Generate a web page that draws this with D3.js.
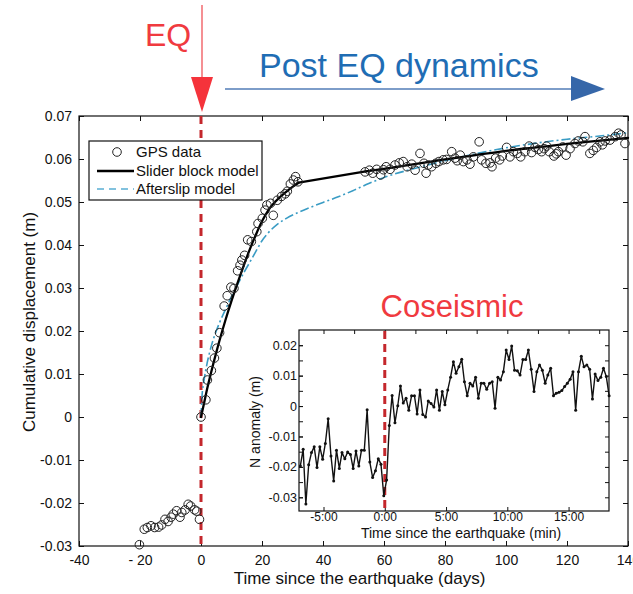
<!DOCTYPE html>
<html><head><meta charset="utf-8">
<script src="https://cdn.jsdelivr.net/npm/d3@7"></script>
<style>
html,body{margin:0;padding:0;background:#fff;}
svg{display:block;font-family:"Liberation Sans",Arial,Helvetica,sans-serif;}
</style></head>
<body>
<svg id="chart" width="633" height="594"></svg>
<script>
// ---------------- DATA ----------------
// Main panel: GPS cumulative displacement (days, metres)
const preDays   = [-20.2,-18.6,-17.6,-16.4,-15.2,-13.9,-12.9,-11.8,-10.8,-9.8,-9.1,-8.0,-6.9,-6.3,-5.2,-4.2,-3.4,-2.1,-1.4,-0.5];
const preValues = [-0.0297,-0.0261,-0.0257,-0.0253,-0.0257,-0.0256,-0.0251,-0.0238,-0.0243,-0.0233,-0.0226,-0.0218,-0.0233,-0.0222,-0.0216,-0.0203,-0.0207,-0.0216,-0.0219,-0.0238];

const postDays = [0.0,1.6,2.1,3.4,4.4,5.2,6.1,7.6,8.6,9.8,10.8,12.0,12.8,13.4,14.3,15.3,16.5,18.3,18.7,20.1,21.0,21.6,22.8,23.7,25.0,26.4,27.6,28.3,29.3,30.3,31.0,31.8,
  53.8,55.2,56.3,57.6,58.9,59.8,60.7,62.0,63.6,65.0,66.3,67.6,69.1,70.2,71.8,73.1,73.8,74.5,75.6,77.0,78.0,79.4,80.5,82.2,83.3,84.0,85.0,86.0,87.2,88.2,89.3,91.2,92.0,93.4,94.8,95.4,96.6,97.9,98.8,
  100.2,101.3,102.4,103.7,104.8,106.2,107.6,108.4,109.5,110.6,111.7,112.5,113.3,114.2,115.7,116.5,117.2,118.6,119.7,121.0,122.6,123.7,125.2,125.9,127.5,128.6,129.7,130.8,131.6,132.5,134.1,135.8,136.9,137.7,139.0];
const postValues = [0.0000,0.0040,0.0086,0.0108,0.0137,0.0160,0.0196,0.0258,0.0282,0.0302,0.0299,0.0340,0.0353,0.0365,0.0376,0.0412,0.0408,0.0431,0.0450,0.0462,0.0481,0.0493,0.0497,0.0469,0.0504,0.0513,0.0519,0.0525,0.0542,0.0551,0.0559,0.0547,
  0.0570,0.0574,0.0567,0.0576,0.0563,0.0575,0.0582,0.0576,0.0586,0.0591,0.0594,0.0582,0.0588,0.0574,0.0613,0.0590,0.0567,0.0586,0.0582,0.0590,0.0594,0.0598,0.0599,0.0617,0.0602,0.0596,0.0609,0.0594,0.0598,0.0588,0.0605,0.0640,0.0598,0.0590,0.0591,0.0582,0.0602,0.0598,0.0607,
  0.0627,0.0605,0.0617,0.0613,0.0605,0.0617,0.0630,0.0615,0.0627,0.0622,0.0617,0.0624,0.0630,0.0617,0.0607,0.0612,0.0617,0.0628,0.0609,0.0624,0.0636,0.0642,0.0640,0.0652,0.0613,0.0620,0.0627,0.0640,0.0633,0.0642,0.0644,0.0652,0.0660,0.0656,0.0636];

// Slider block model curve: rising branch, straight bridge across the data gap, slow branch
const sliderEarlyDays   = [0,1,2,3,4,5,6,8,10,12,14,16,18,20,22,24,26,28,30,32];
const sliderEarlyValues = [0,0.0032,0.0065,0.0095,0.0123,0.0150,0.0176,0.0225,0.0270,0.0312,0.0352,0.0390,0.0424,0.0455,0.0480,0.0498,0.0512,0.0524,0.0535,0.0545];
const sliderLateDays    = [54,60,70,80,90,100,110,120,130,140];
const sliderLateValues  = [0.0571,0.0577,0.0588,0.0599,0.0609,0.0619,0.0627,0.0635,0.0642,0.0649];

// Afterslip model curve
const afterDays   = [0,0.3,1,2,3,4,5,6,8,10,12,14,16,18,20,22,25,28,32,36,40,45,50,55,60,70,80,90,100,110,120,130,140];
const afterValues = [0,0.0045,0.0085,0.0125,0.0155,0.0180,0.0200,0.0218,0.0250,0.0280,0.0308,0.0335,0.0360,0.0385,0.0410,0.0428,0.0448,0.0462,0.0476,0.0488,0.0499,0.0512,0.0527,0.0543,0.0557,0.0578,0.0596,0.0612,0.0626,0.0637,0.0646,0.0653,0.0661];

const xTicks = [-40,-20,0,20,40,60,80,100,120,140];
const xTickLabels = ["-40","- 20","0","20","40","60","80","100","120","140"];
const yTicks = [-0.03,-0.02,-0.01,0,0.01,0.02,0.03,0.04,0.05,0.06,0.07];
const yTickLabels = ["-0.03","-0.02","-0.01","0","0.01","0.02","0.03","0.04","0.05","0.06","0.07"];

// Inset: N anomaly (minutes, metres)
const insetMinutes = [-6.89,-6.66,-6.44,-6.21,-5.98,-5.76,-5.53,-5.30,-5.07,-4.85,-4.62,-4.39,-4.17,-3.94,-3.71,-3.49,-3.26,-3.03,-2.80,-2.58,-2.35,-2.12,-1.90,-1.67,-1.44,-1.22,-0.99,-0.76,-0.53,-0.31,-0.08,
  0.15,0.37,0.60,0.83,1.06,1.28,1.51,1.74,1.96,2.19,2.42,2.64,2.87,3.10,3.33,3.55,3.78,4.01,4.23,4.46,4.69,4.91,5.14,5.37,5.60,5.82,6.05,6.28,6.50,6.73,6.96,7.18,7.41,7.64,7.87,8.09,8.32,8.55,8.77,9.00,
  9.23,9.45,9.68,9.91,10.14,10.36,10.59,10.82,11.04,11.27,11.50,11.72,11.95,12.18,12.41,12.63,12.86,13.09,13.31,13.54,13.77,13.99,14.22,14.45,14.68,14.90,15.13,15.36,15.58,15.81,16.04,16.26,16.49,16.72,16.95,17.17,17.40,17.63,17.85,18.08,18.31];
const insetValues = [-0.0197,-0.0142,-0.0322,-0.0193,-0.0153,-0.0134,-0.0202,-0.0134,-0.0175,-0.0123,-0.0042,-0.0164,-0.0246,-0.0145,-0.0205,-0.0153,-0.0173,-0.0151,-0.0159,-0.0205,-0.0148,-0.0197,-0.0145,-0.0145,-0.0012,-0.0184,-0.0235,-0.0213,-0.0173,-0.0191,-0.0295,
  -0.0243,-0.0064,0.0035,-0.0055,0.0001,0.0066,0.0010,0.0026,-0.0014,0.0034,0.0034,-0.0026,0.0053,-0.0028,-0.0036,0.0017,0.0008,-0.0003,0.0053,-0.0014,0.0048,0.0004,0.0053,0.0095,0.0146,0.0108,0.0129,0.0154,0.0080,0.0034,0.0075,0.0066,0.0095,0.0026,0.0075,0.0075,0.0055,0.0075,0.0080,-0.0007,
  0.0095,0.0086,0.0113,0.0184,0.0153,0.0197,0.0118,0.0116,0.0102,0.0153,0.0153,0.0184,0.0121,0.0048,0.0113,0.0135,0.0118,0.0075,0.0102,0.0124,0.0034,0.0042,0.0045,0.0051,0.0064,0.0075,0.0088,0.0113,-0.0014,0.0113,0.0164,0.0129,0.0135,0.0121,0.0023,0.0105,0.0084,0.0095,0.0124,0.0097,0.0034];
const insetXTicks = [-5,0,5,10,15];
const insetXTickLabels = ["-5:00","0:00","5:00","10:00","15:00"];
const insetXMinor = [-5,-2.5,0,2.5,5,7.5,10,12.5,15,17.5];
const insetYTicks = [-0.03,-0.02,-0.01,0,0.01,0.02];
const insetYTickLabels = ["-0.03","-0.02","-0.01","0","0.01","0.02"];
const insetYMinor = [-0.03,-0.025,-0.02,-0.015,-0.01,-0.005,0,0.005,0.01,0.015,0.02];

const legendLabels = ["GPS data","Slider block model","Afterslip model"];

// ---------------- DRAW ----------------
const svg = d3.select("#chart");
svg.append("rect").attr("width",633).attr("height",594).attr("fill","#fff");

const x = d3.scaleLinear().domain([-40,140]).range([79,628]);
const y = d3.scaleLinear().domain([-0.03,0.07]).range([546,116]);

const RED = "#c4272c";
const BLUE_MODEL = "#3a9cc4";

// axes
const gx = svg.append("g").attr("transform","translate(0,546)")
  .call(d3.axisBottom(x).tickValues(xTicks).tickFormat((d,i)=>xTickLabels[i]).tickSizeInner(-5).tickSizeOuter(0).tickPadding(9));
const gxt = svg.append("g").attr("transform","translate(0,116)")
  .call(d3.axisTop(x).tickValues(xTicks).tickFormat("").tickSizeInner(-5).tickSizeOuter(0));
const gy = svg.append("g").attr("transform","translate(79,0)")
  .call(d3.axisLeft(y).tickValues(yTicks).tickFormat((d,i)=>yTickLabels[i]).tickSizeInner(-5).tickSizeOuter(0).tickPadding(7));
const gyr = svg.append("g").attr("transform","translate(628,0)")
  .call(d3.axisRight(y).tickValues(yTicks).tickFormat("").tickSizeInner(-5).tickSizeOuter(0));
[gx,gxt,gy,gyr].forEach(g=>{
  g.select(".domain").remove();
  g.selectAll("line").attr("stroke","#111").attr("stroke-width",1);
  g.selectAll("text").attr("font-size",14).attr("fill","#111").attr("font-family","Liberation Sans, Arial, sans-serif");
});
svg.append("rect").attr("x",79).attr("y",116).attr("width",549).attr("height",430)
  .attr("fill","none").attr("stroke","#111").attr("stroke-width",1.2);

// axis titles
svg.append("text").attr("x",(79+628)/2+6).attr("y",584).attr("text-anchor","middle")
  .attr("font-size",17).attr("fill","#111").text("Time since the earthquake (days)");
svg.append("text").attr("transform","translate(35,322) rotate(-90)").attr("text-anchor","middle")
  .attr("font-size",17).attr("fill","#111").text("Cumulative displacement (m)");

// EQ dashed line
svg.append("line").attr("x1",x(0)).attr("x2",x(0)).attr("y1",116).attr("y2",546)
  .attr("stroke",RED).attr("stroke-width",3).attr("stroke-dasharray","8,6");

// model lines
const mono = d3.line().x(d=>x(d[0])).y(d=>y(d[1])).curve(d3.curveMonotoneX);
const lin  = d3.line().x(d=>x(d[0])).y(d=>y(d[1]));
svg.append("path").datum(afterDays.map((d,i)=>[d,afterValues[i]])).attr("d",mono)
  .attr("fill","none").attr("stroke",BLUE_MODEL).attr("stroke-width",1.6).attr("stroke-dasharray","9,3,2,3");
const early = sliderEarlyDays.map((d,i)=>[d,sliderEarlyValues[i]]);
const late  = sliderLateDays.map((d,i)=>[d,sliderLateValues[i]]);
[[early,mono],[[early[early.length-1],late[0]],lin],[late,mono]].forEach(([pts,gen])=>{
  svg.append("path").datum(pts).attr("d",gen)
    .attr("fill","none").attr("stroke","#000").attr("stroke-width",2.3).attr("stroke-linejoin","round").attr("stroke-linecap","round");
});

// GPS circles
const allPts = preDays.map((d,i)=>[d,preValues[i]]).concat(postDays.map((d,i)=>[d,postValues[i]]));
svg.append("g").selectAll("circle").data(allPts).join("circle")
  .attr("cx",d=>x(d[0])).attr("cy",d=>y(d[1])).attr("r",4.3)
  .attr("fill","none").attr("stroke","#222").attr("stroke-width",1);

// legend
const lg = svg.append("g");
lg.append("rect").attr("x",89).attr("y",141).attr("width",173).attr("height",59)
  .attr("fill","#fff").attr("stroke","#111").attr("stroke-width",1.2);
lg.append("circle").attr("cx",117).attr("cy",152).attr("r",4.3).attr("fill","none").attr("stroke","#222");
lg.append("line").attr("x1",97).attr("x2",134).attr("y1",171).attr("y2",171).attr("stroke","#000").attr("stroke-width",2.5);
lg.append("line").attr("x1",97).attr("x2",134).attr("y1",189).attr("y2",189).attr("stroke","#5aaed3").attr("stroke-width",1.6).attr("stroke-dasharray","7,5");
[157,176,194].forEach((yy,i)=>{
  lg.append("text").attr("x",136).attr("y",yy).attr("font-size",15).attr("fill","#111").text(legendLabels[i]);
});

// ---------------- INSET ----------------
const ix = d3.scaleLinear().domain([-7,18.3]).range([299,609]);
const iy = d3.scaleLinear().domain([-0.0345,0.025]).range([511,330]);
const ins = svg.append("g");
ins.append("rect").attr("x",299).attr("y",330).attr("width",310).attr("height",181).attr("fill","#fff");

const ia1 = ins.append("g").attr("transform","translate(0,511)")
  .call(d3.axisBottom(ix).tickValues(insetXTicks).tickFormat((d,i)=>insetXTickLabels[i]).tickSizeInner(-4).tickSizeOuter(0).tickPadding(1));
const ia2 = ins.append("g").attr("transform","translate(0,330)")
  .call(d3.axisTop(ix).tickValues(insetXMinor).tickFormat("").tickSizeInner(-4).tickSizeOuter(0));
const ia3 = ins.append("g").attr("transform","translate(299,0)")
  .call(d3.axisLeft(iy).tickValues(insetYMinor).tickFormat("").tickSizeInner(-4).tickSizeOuter(0));
const ia4 = ins.append("g").attr("transform","translate(299,0)")
  .call(d3.axisLeft(iy).tickValues(insetYTicks).tickFormat((d,i)=>insetYTickLabels[i]).tickSizeInner(-4).tickSizeOuter(0).tickPadding(2));
const ia5 = ins.append("g").attr("transform","translate(609,0)")
  .call(d3.axisRight(iy).tickValues(insetYMinor).tickFormat("").tickSizeInner(-4).tickSizeOuter(0));
[ia1,ia2,ia3,ia4,ia5].forEach(g=>{
  g.select(".domain").remove();
  g.selectAll("line").attr("stroke","#111");
  g.selectAll("text").attr("font-size",12.5).attr("fill","#111").attr("font-family","Liberation Sans, Arial, sans-serif");
});
ia1.selectAll("text").attr("font-size",12);
ins.append("rect").attr("x",299).attr("y",330).attr("width",310).attr("height",181)
  .attr("fill","none").attr("stroke","#111").attr("stroke-width",1.2);

ins.append("line").attr("x1",ix(0)).attr("x2",ix(0)).attr("y1",331).attr("y2",510)
  .attr("stroke",RED).attr("stroke-width",3).attr("stroke-dasharray","8,5");

const insetPts = insetMinutes.map((m,i)=>[m,insetValues[i]]);
ins.append("path").datum(insetPts).attr("d",d3.line().x(d=>ix(d[0])).y(d=>iy(d[1])))
  .attr("fill","none").attr("stroke","#111").attr("stroke-width",1.4).attr("stroke-linejoin","round");
ins.append("g").selectAll("circle").data(insetPts).join("circle")
  .attr("cx",d=>ix(d[0])).attr("cy",d=>iy(d[1])).attr("r",1.5).attr("fill","#111");

ins.append("text").attr("x",461).attr("y",538).attr("text-anchor","middle").attr("font-size",14).attr("fill","#111")
  .text("Time since the earthquake (min)");
ins.append("text").attr("transform","translate(260,422) rotate(-90)").attr("text-anchor","middle").attr("font-size",14).attr("fill","#111")
  .text("N anomaly (m)");

// ---------------- ANNOTATIONS ----------------
svg.append("text").attr("x",452).attr("y",317).attr("text-anchor","middle").attr("font-size",31).attr("fill","#f03a3f").text("Coseismic");

// EQ arrow
svg.append("line").attr("x1",x(0)+1).attr("x2",x(0)+1).attr("y1",5).attr("y2",80).attr("stroke","#f37478").attr("stroke-width",1.6);
svg.append("path").attr("d",`M${x(0)-10},77 L${x(0)+12},77 L${x(0)+1},112 Z`).attr("fill","#f5333b");
svg.append("text").attr("x",168).attr("y",46).attr("text-anchor","middle").attr("font-size",32).attr("fill","#f03a3f").text("EQ");

// Post EQ arrow
svg.append("line").attr("x1",225).attr("x2",573).attr("y1",89).attr("y2",89).attr("stroke","#7d9dc9").attr("stroke-width",2);
svg.append("path").attr("d","M571,76 L605,89 L571,101 Z").attr("fill","#3667a9");
svg.append("text").attr("x",259).attr("y",77).attr("font-size",34).attr("fill","#1f6db4").text("Post EQ dynamics");
</script>
</body></html>
